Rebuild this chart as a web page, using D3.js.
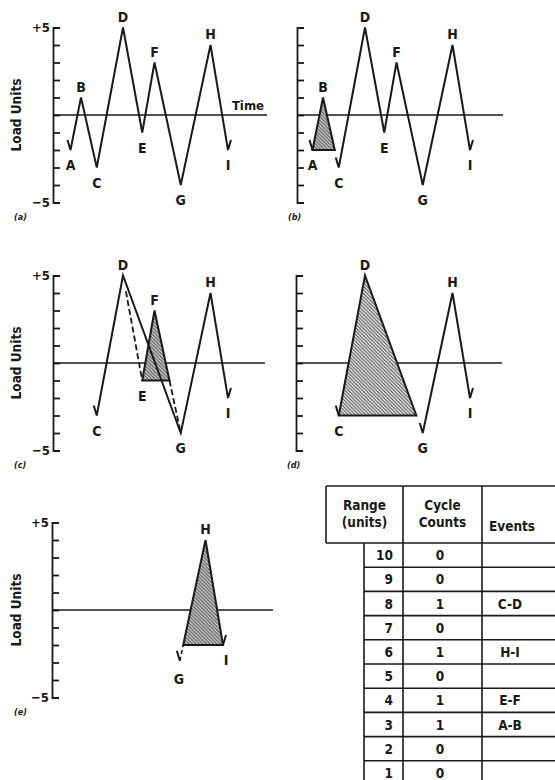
<!DOCTYPE html>
<html>
<head>
<meta charset="utf-8">
<script src="https://cdn.jsdelivr.net/npm/d3@7"></script>
<style>
  body { margin: 0; background: #fff; }
  svg text { font-family: "DejaVu Sans Condensed", "DejaVu Sans", sans-serif; font-weight: bold; fill: #1a1a1a; }
</style>
</head>
<body>
<svg width="555" height="780"></svg>
<script>
// load history (rainflow example)
const letters = ["A", "B", "C", "D", "E", "F", "G", "H", "I"];
const loads = [-2, 1, -3, 5, -1, 3, -4, 4, -2];
const times = [0, 3, 7.5, 15, 20.5, 24, 31.5, 40, 45];
const loadTicks = d3.range(-5, 6);

// cycle count table
const rangeUnits = [10, 9, 8, 7, 6, 5, 4, 3, 2, 1];
const cycleCounts = [0, 0, 1, 0, 1, 0, 1, 1, 0, 0];
const events = ["", "", "C-D", "", "H-I", "", "E-F", "A-B", "", ""];

const svg = d3.select("svg");
const ink = "#1a1a1a";

// hatch pattern for the extracted cycles
const defs = svg.append("defs");
function hatch(id, bg) {
  const pat = defs.append("pattern")
    .attr("id", id)
    .attr("patternUnits", "userSpaceOnUse")
    .attr("width", 3.5).attr("height", 3.5);
  pat.append("rect").attr("width", 3.5).attr("height", 3.5).attr("fill", bg);
  pat.append("path")
    .attr("d", "M-1,-1 L4.5,4.5 M2.5,-1 L4.5,1 M-1,2.5 L1,4.5")
    .attr("stroke", "#3a3a3a").attr("stroke-width", 0.9);
}
hatch("hatch", "#d0d0d0");
hatch("hatchLight", "#ececec");

const P = {};
letters.forEach((l, i) => { P[l] = { name: l, t: times[i], v: loads[i] }; });

// point on segment p->q where load equals v
const onSeg = (p, q, v) => ({ t: p.t + (v - p.v) / (q.v - p.v) * (q.t - p.t), v: v });
const at = (p, q, f) => ({ t: p.t + f * (q.t - p.t), v: p.v + f * (q.v - p.v) });

const panels = [
  { id: "a", x0: 53, axisX: 53, zeroY: 115, lineEnd: 267, nums: true },
  { id: "b", x0: 295, axisX: 297, zeroY: 115, lineEnd: 503, nums: false },
  { id: "c", x0: 53, axisX: 53, zeroY: 363, lineEnd: 265, nums: true },
  { id: "d", x0: 295, axisX: 296, zeroY: 363, lineEnd: 502, nums: false },
  { id: "e", x0: 48, axisX: 52, zeroY: 610, lineEnd: 273, nums: true }
];

function drawPanel(p) {
  const g = svg.append("g");
  const x = d3.scaleLinear().domain([-5, 56]).range([p.x0, p.x0 + 213.5]);
  const y = d3.scaleLinear().domain([-5, 5]).range([p.zeroY + 87.5, p.zeroY - 87.5]);
  const line = d3.line().x(d => d[0]).y(d => d[1]);
  const px = d => [x(d.t), y(d.v)];

  // bracket-style load axis
  const ax = g.append("g")
    .attr("transform", `translate(${p.axisX},0)`)
    .call(d3.axisRight(y).tickValues(loadTicks).tickSizeInner(7).tickSizeOuter(7).tickFormat(""));
  ax.selectAll("path, line").attr("stroke", ink).attr("stroke-width", 1.8);

  // zero (time) line
  g.append("line")
    .attr("x1", p.axisX).attr("x2", p.lineEnd)
    .attr("y1", y(0)).attr("y2", y(0))
    .attr("stroke", ink).attr("stroke-width", 1.6);

  if (p.nums) {
    g.append("text").attr("x", p.axisX - 3).attr("y", y(5) + 4)
      .attr("text-anchor", "end").attr("font-size", 13).text("+5");
    g.append("text").attr("x", p.axisX - 3).attr("y", y(-5) + 4)
      .attr("text-anchor", "end").attr("font-size", 13).text("−5");
    g.append("text")
      .attr("transform", `translate(21,${y(0)}) rotate(-90)`)
      .attr("text-anchor", "middle").attr("font-size", 13.5).text("Load Units");
  }
  g.append("text")
    .attr("x", p.nums ? 14 : p.axisX - 9).attr("y", p.zeroY + 105)
    .attr("font-size", 9).attr("font-style", "italic").text(`(${p.id})`);

  // polyline with small check-mark lead in / tail at troughs
  function path(pts, opt = {}) {
    let c = pts.map(px);
    if (opt.lead) c.unshift([c[0][0] - 3, c[0][1] - 10]);
    if (opt.tail) { const e = c[c.length - 1]; c.push([e[0] + 3, e[1] - 10]); }
    g.append("path").attr("d", line(c))
      .attr("fill", "none").attr("stroke", ink)
      .attr("stroke-width", opt.w || 2).attr("stroke-linejoin", "miter")
      .attr("stroke-dasharray", opt.dash || null);
  }
  function tri(pts, fill = "url(#hatch)") {
    g.append("path").attr("d", line(pts.map(px)) + "Z")
      .attr("fill", fill).attr("stroke", ink).attr("stroke-width", 2);
  }
  function label(pt, up, dx = 0) {
    g.append("text").attr("x", x(pt.t) + dx).attr("y", up ? y(pt.v) - 6 : y(pt.v) + 20)
      .attr("text-anchor", "middle").attr("font-size", 14).text(pt.name);
  }
  const peak = d => d.v > (d.name === "B" ? 0 : 1);

  if (p.id === "a") {
    path(letters.map(l => P[l]), { lead: true, tail: true });
    letters.forEach(l => label(P[l], peak(P[l])));
    g.append("text").attr("x", p.lineEnd - 3).attr("y", y(0) - 5)
      .attr("text-anchor", "end").attr("font-size", 13).text("Time");
  }
  if (p.id === "b") {
    tri([P.A, P.B, onSeg(P.B, P.C, P.A.v)]);
    path([P.A], { lead: true });
    path(["C", "D", "E", "F", "G", "H", "I"].map(l => P[l]), { lead: true, tail: true });
    letters.forEach(l => label(P[l], peak(P[l])));
  }
  if (p.id === "c") {
    const c1 = onSeg(P.F, P.G, P.E.v);
    path([at(P.D, P.E, 0.15), P.E], { dash: "6,3", w: 1.8 });
    path([c1, at(c1, P.G, 0.95)], { dash: "6,3", w: 1.8 });
    tri([P.E, P.F, c1]);
    path([P.C, P.D, P.G, P.H, P.I], { lead: true, tail: true });
    ["C", "D", "E", "F", "G", "H", "I"].forEach(l => label(P[l], peak(P[l])));
  }
  if (p.id === "d") {
    tri([P.C, P.D, onSeg(P.D, P.G, P.C.v)], "url(#hatchLight)");
    path([P.C], { lead: true });
    path([P.G, P.H, P.I], { lead: true, tail: true });
    ["C", "D", "G", "H", "I"].forEach(l => label(P[l], peak(P[l])));
  }
  if (p.id === "e") {
    const c0 = onSeg(P.G, P.H, P.I.v);
    const gEnd = onSeg(P.G, P.H, -2.9);
    path([gEnd, c0], { dash: "4,3", w: 1.6 });
    path([gEnd], { lead: true });
    tri([c0, P.H, P.I]);
    path([P.I], { tail: true });
    label(P.H, true);
    label(P.I, false, 3);
    g.append("text").attr("x", x(gEnd.t) - 1).attr("y", y(gEnd.v) + 23)
      .attr("text-anchor", "middle").attr("font-size", 14).text("G");
  }
}

panels.forEach(drawPanel);

// ---- cycle count table ----
const tbl = svg.append("g");
const tLeft = 326, tInner = 364, col1 = 403, col2 = 482, tRight = 560;
const tTop = 486, headBot = 543;
const rowY = d3.scaleBand().domain(rangeUnits).range([headBot, headBot + 24.2 * rangeUnits.length]);
const tBottom = headBot + 24.2 * rangeUnits.length;
const tl = (x1, y1, x2, y2) => tbl.append("line")
  .attr("x1", x1).attr("y1", y1).attr("x2", x2).attr("y2", y2)
  .attr("stroke", ink).attr("stroke-width", 1.6);

tl(tLeft, tTop, tRight, tTop);
tl(tLeft, tTop, tLeft, headBot);
tl(tLeft, headBot, tRight, headBot);
tl(tInner, headBot, tInner, tBottom);
tl(col1, tTop, col1, tBottom);
tl(col2, tTop, col2, tBottom);
rangeUnits.forEach(r => tl(tInner, rowY(r) + rowY.bandwidth(), tRight, rowY(r) + rowY.bandwidth()));

const ht = (x, yy, s) => tbl.append("text").attr("x", x).attr("y", yy)
  .attr("text-anchor", "middle").attr("font-size", 13.5).attr("font-weight", "normal").text(s);
ht((tLeft + col1) / 2, 510, "Range");
ht((tLeft + col1) / 2, 527, "(units)");
ht((col1 + col2) / 2, 510, "Cycle");
ht((col1 + col2) / 2, 527, "Counts");
ht(512, 531, "Events");

tbl.selectAll("text.rng").data(rangeUnits).join("text")
  .attr("class", "rng").attr("x", 393).attr("y", d => rowY(d) + rowY.bandwidth() / 2 + 5)
  .attr("text-anchor", "end").attr("font-size", 13.5).text(d => d);
tbl.selectAll("text.cnt").data(cycleCounts).join("text")
  .attr("class", "cnt").attr("x", 440).attr("y", (d, i) => rowY(rangeUnits[i]) + rowY.bandwidth() / 2 + 5)
  .attr("text-anchor", "middle").attr("font-size", 13.5).text(d => d);
tbl.selectAll("text.evt").data(events).join("text")
  .attr("class", "evt").attr("x", 510).attr("y", (d, i) => rowY(rangeUnits[i]) + rowY.bandwidth() / 2 + 5)
  .attr("text-anchor", "middle").attr("font-size", 13.5).text(d => d);
</script>
</body>
</html>
